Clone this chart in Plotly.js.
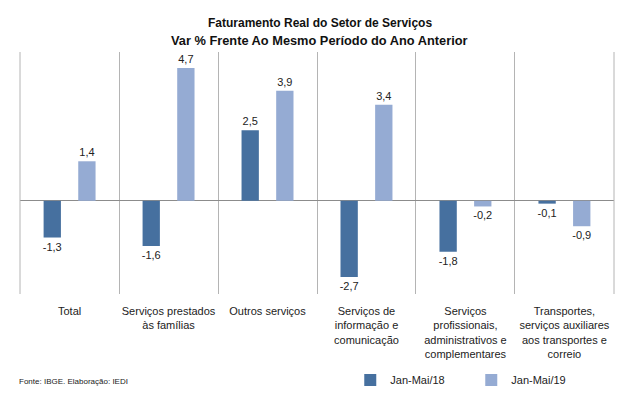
<!DOCTYPE html>
<html>
<head>
<meta charset="utf-8">
<script src="https://cdn.plot.ly/plotly-3.0.1.min.js"></script>
<style>html,body{margin:0;padding:0;background:#fff;}#chart{width:634px;height:399px;}</style>
</head>
<body>
<div id="chart"></div>
<script>
const categories = [
  "Total",
  "Serviços prestados<br>às famílias",
  "Outros serviços",
  "Serviços de<br>informação e<br>comunicação",
  "Serviços<br>profissionais,<br>administrativos e<br>complementares",
  "Transportes,<br>serviços auxiliares<br>aos transportes e<br>correio"
];
const series18 = [-1.3, -1.6, 2.5, -2.7, -1.8, -0.1];
const series19 = [1.4, 4.7, 3.9, 3.4, -0.2, -0.9];
const seriesNames = ["Jan-Mai/18", "Jan-Mai/19"];
const titleLines = ["Faturamento Real do Setor de Serviços", "Var % Frente Ao Mesmo Período do Ano Anterior"];

const font = "Liberation Sans, Arial, sans-serif";
const traces = [
  {type: "bar", name: seriesNames[0], x: categories, y: series18,
   marker: {color: "#46709f"}, texttemplate: "%{y:.1f}", textposition: "outside", constraintext: "none",
   textfont: {family: font, size: 11, color: "#222"}, cliponaxis: false},
  {type: "bar", name: seriesNames[1], x: categories, y: series19,
   marker: {color: "#95abd3"}, texttemplate: "%{y:.1f}", textposition: "outside", constraintext: "none",
   textfont: {family: font, size: 11, color: "#222"}, cliponaxis: false}
];

const layout = {
  width: 634, height: 399,
  margin: {l: 20, r: 20, t: 52, b: 105, autoexpand: false},
  paper_bgcolor: "#fff", plot_bgcolor: "#fff",
  separators: ",.",
  font: {family: font, size: 11, color: "#222"},
  barmode: "group", bargap: 0.3, bargroupgap: 0.5,
  xaxis: {type: "category", tickson: "boundaries", showgrid: true, gridcolor: "#b4b4b4", gridwidth: 1,
          showline: false, ticks: "", zeroline: false, tickangle: 0, automargin: false,
          tickfont: {family: font, size: 11, color: "#222"},
          ticklabelstandoff: 9, range: [-0.501, 5.501], fixedrange: true},
  yaxis: {range: [-3.3, 5.27], showgrid: false, showticklabels: false, ticks: "",
          zeroline: true, zerolinecolor: "#8c8c8c", zerolinewidth: 1, showline: false},
  showlegend: true,
  legend: {orientation: "h", x: 0.556, xanchor: "left", y: -0.355, yanchor: "middle",
           font: {family: font, size: 11, color: "#222"}, entrywidth: 76, entrywidthmode: "pixels",
           itemwidth: 30, bgcolor: "rgba(0,0,0,0)"},
  shapes: [
    {type: "line", xref: "paper", yref: "paper", x0: 0, x1: 0, y0: 0, y1: 1, line: {color: "#b4b4b4", width: 1}},
    {type: "line", xref: "paper", yref: "paper", x0: 1, x1: 1, y0: 0, y1: 1, line: {color: "#b4b4b4", width: 1}}
  ],
  annotations: [
    {text: "<b>" + titleLines[0] + "</b>", xref: "paper", yref: "paper", x: 0.505, y: 1.12,
     xanchor: "center", yanchor: "middle", showarrow: false, font: {family: font, size: 12, color: "#111"}},
    {text: "<b>" + titleLines[1] + "</b>", xref: "paper", yref: "paper", x: 0.505, y: 1.048,
     xanchor: "center", yanchor: "middle", showarrow: false, font: {family: font, size: 12.8, color: "#111"}},
    {text: "Fonte: IBGE. Elaboração: IEDI", xref: "paper", yref: "paper",
     x: -0.005, y: -0.36, xanchor: "left", yanchor: "middle", showarrow: false,
     font: {family: font, size: 8, color: "#222"}}]
};

Plotly.newPlot("chart", traces, layout, {displayModeBar: false, staticPlot: true});
</script>
</body>
</html>
